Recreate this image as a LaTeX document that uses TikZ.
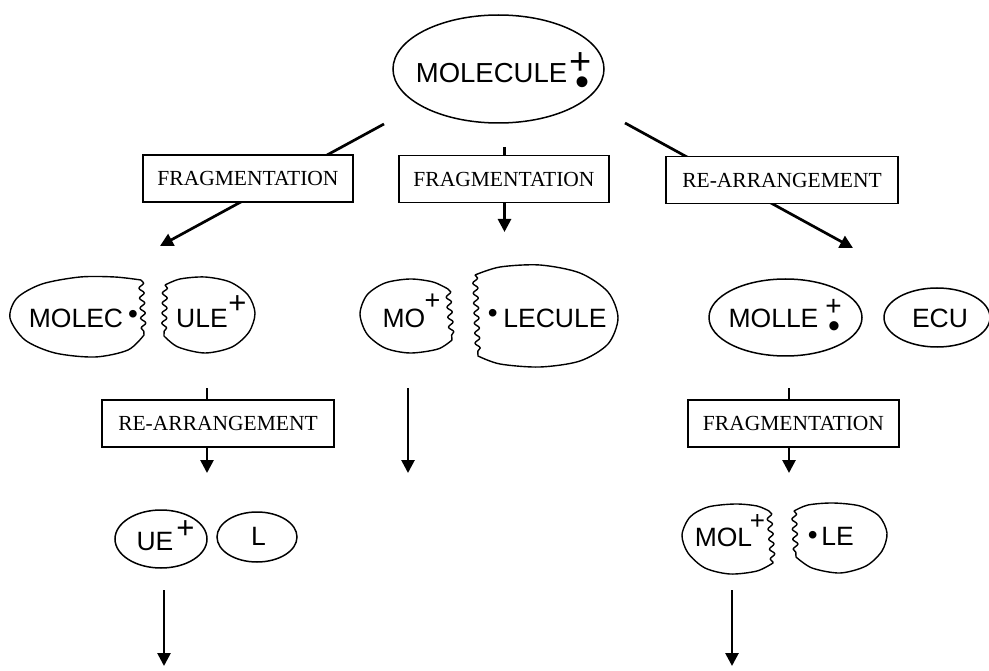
\documentclass[tikz,border=0pt]{standalone}
\usepackage{fontspec}
\setmainfont{Liberation Serif}
\newfontfamily\arialf{Liberation Sans}
\usetikzlibrary{arrows.meta,decorations.pathmorphing,shapes.geometric}
\begin{document}
\begin{tikzpicture}[x=1pt,y=-1pt,
  lab/.style={font=\arialf\fontsize{26.5}{30}\selectfont, inner sep=0pt, anchor=base},
  plussign/.style={font=\arialf\fontsize{#1}{#1}\selectfont, inner sep=0pt},
  dotsign/.style={font=\arialf\fontsize{#1}{#1}\selectfont, inner sep=0pt},
  stepbox/.style={draw, line width=1.5pt, fill=white, font=\fontsize{21.5}{24}\selectfont, inner sep=0pt, minimum height=47},
  oval/.style={draw, ellipse, line width=1.5pt, inner sep=0pt},
  blob/.style={line width=1.4pt, line join=round},
  arr/.style={line width=2.7pt, -{Triangle[length=13pt,width=13pt]}},
  wav/.style={decoration={snake, segment length=10pt, amplitude=2.5pt}},
]
\useasboundingbox (0,0) rectangle (989,671);

% ---------- top molecule ----------
\node[oval, minimum width=211, minimum height=108] (molecule) at (498.5,69) {};
\node[lab, font=\arialf\fontsize{27.5}{30}\selectfont] (tmolecule) at (491.5,83) {MOLECULE};
\node[plussign=38, anchor=base, text depth=-5pt] (pmolecule) at (581,75) {+};
\node[dotsign=40, anchor=base] (dmolecule) at (582,95.8) {•};

% ---------- first arrows ----------
\coordinate (a1s) at (384,124);
\coordinate (a1e) at (160,246);
\coordinate (a2s) at (504.5,147);
\coordinate (a2e) at (504.5,232);
\coordinate (a3s) at (625,123);
\coordinate (a3e) at (853,248);
\draw[arr] (a1s) -- (a1e);
\draw[arr] (a2s) -- (a2e);
\draw[arr] (a3s) -- (a3e);
\node[stepbox, minimum width=210] (frag1) at (248,178.5) {FRAGMENTATION};
\node[stepbox, minimum width=210] (frag2) at (504,179) {FRAGMENTATION};
\node[stepbox, minimum width=232] (rearr1) at (782,180) {RE-ARRANGEMENT};

% ---------- row 2: MOLEC. + ULE+ ----------
\draw[blob] decorate[wav]{(141,280) -- (144,335)} -- plot[smooth] coordinates
  {(144,335) (128,350) (95,357) (55,353) (25,340) (10,318) (17,298) (42,284) (80,277) (115,277) (141,280)};
\draw[blob] decorate[wav]{(165,285) -- (164,336)} -- plot[smooth] coordinates
  {(164,336) (178,347) (205,353) (232,347) (249,332) (255,313) (248,295) (230,282) (205,277) (180,279) (165,285)};
\node[lab] (tmolec) at (76,327) {MOLEC};
\node[dotsign=28] (dmolec) at (133,316.5) {•};
\node[lab] (tule) at (202,327) {ULE};
\node[plussign=31] (pule) at (237.5,305) {+};

% ---------- row 2: MO+ + .LECULE ----------
\draw[blob] decorate[wav]{(448,289) -- (452,340)} -- plot[smooth] coordinates
  {(452,340) (438,349) (410,353) (385,348) (367,334) (360,314) (367,295) (385,283) (410,279) (433,282) (448,289)};
\draw[blob] decorate[wav]{(475,275) -- (478,356)} -- plot[smooth] coordinates
  {(478,356) (500,364) (540,367) (580,361) (608,344) (618,318) (608,292) (580,273) (540,265) (500,267) (475,275)};
\node[lab] (tmo) at (404,327) {MO};
\node[plussign=27] (pmo) at (432.5,301.5) {+};
\node[dotsign=28] (dlecule) at (492.7,315.8) {•};
\node[lab] (tlecule) at (555,327) {LECULE};

% ---------- row 2: MOLLE+. + ECU ----------
\node[oval, minimum width=153, minimum height=77] (molle) at (785.5,317.5) {};
\node[lab] (tmolle) at (773.5,327) {MOLLE};
\node[plussign=28, anchor=base, text depth=-4pt] (pmolle) at (833.5,316) {+};
\node[dotsign=34, anchor=base] (dmolle) at (834,337.5) {•};
\node[oval, minimum width=106, minimum height=59] (ecu) at (937,317.5) {};
\node[lab] (tecu) at (940,327) {ECU};

% ---------- second arrows ----------
\coordinate (b1s) at (207,388);
\coordinate (b1e) at (207,473);
\coordinate (b2s) at (408,388);
\coordinate (b2e) at (408,473);
\coordinate (b3s) at (789,388);
\coordinate (b3e) at (789,473);
\draw[arr] (b1s) -- (b1e);
\draw[arr] (b2s) -- (b2e);
\draw[arr] (b3s) -- (b3e);
\node[stepbox, minimum width=232] (rearr2) at (218,423.5) {RE-ARRANGEMENT};
\node[stepbox, minimum width=211] (frag3) at (793.5,423.5) {FRAGMENTATION};

% ---------- row 4 ----------
\node[oval, minimum width=92, minimum height=58] (ue) at (161,539) {};
\node[lab] (tue) at (155,550) {UE};
\node[plussign=31] (pue) at (185.5,529.5) {+};
\node[oval, minimum width=80, minimum height=50] (l) at (257,537) {};
\node[lab] (tl) at (258.5,545) {L};

\draw[blob] decorate[wav]{(769,511) -- (773,563)} -- plot[smooth] coordinates
  {(773,563) (757,571) (730,574) (705,568) (688,553) (682,535) (690,517) (708,507) (735,504) (757,506) (769,511)};
\draw[blob] decorate[wav]{(794,511) -- (796,557)} -- plot[smooth] coordinates
  {(796,557) (812,568) (840,573) (866,566) (882,551) (887,533) (879,516) (860,506) (833,503) (808,505) (794,511)};
\node[lab] (tmol) at (723.5,546) {MOL};
\node[plussign=26] (pmol) at (757.5,522) {+};
\node[dotsign=28] (dle) at (812.7,537.5) {•};
\node[lab] (tle) at (837.5,545) {LE};

% ---------- final arrows ----------
\coordinate (c1s) at (164,590);
\coordinate (c1e) at (164,666);
\coordinate (c2s) at (732,590);
\coordinate (c2e) at (732,666);
\draw[arr] (c1s) -- (c1e);
\draw[arr] (c2s) -- (c2e);
\end{tikzpicture}
\end{document}
